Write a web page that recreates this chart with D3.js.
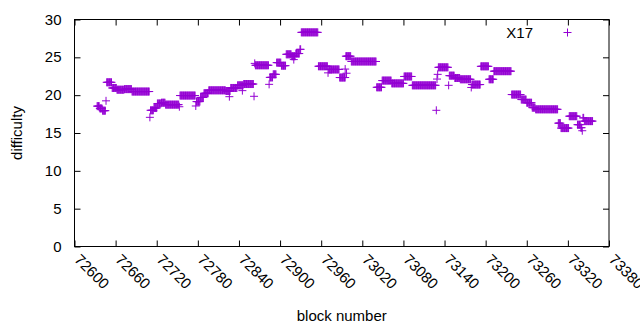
<!DOCTYPE html>
<html>
<head>
<meta charset="utf-8">
<script src="https://cdn.jsdelivr.net/npm/d3@7"></script>
<style>
body { margin: 0; background: #ffffff; }
text { font-family: "Liberation Sans", Arial, sans-serif; fill: #000000; }
</style>
</head>
<body>
<div id="canvas"></div>
<script>
"use strict"

/* Data: plateaus of difficulty (first block, last block, difficulty) */
let runStart = [72633, 72637, 72641, 72646, 72647, 72655, 72662, 72673, 72684, 72710,
    72711, 72716, 72721, 72727, 72733, 72753, 72754, 72777, 72778, 72784,
    72789, 72796, 72821, 72828, 72838, 72847, 72862, 72863, 72864, 72884,
    72885, 72890, 72895, 72902, 72909, 72917, 72923, 72929, 72931, 72956,
    72970, 72971, 72987, 72996, 73004, 73041, 73049, 73063, 73081, 73093,
    73128, 73129, 73130, 73131, 73146, 73147, 73155, 73163, 73179, 73180,
    73193, 73205, 73212, 73238, 73252, 73260, 73268, 73273, 73306, 73310,
    73322, 73334, 73339, 73341, 73342, 73344];
let runEnd = [72636, 72640, 72645, 72646, 72654, 72661, 72672, 72683, 72709, 72710,
    72715, 72720, 72726, 72732, 72752, 72753, 72776, 72777, 72783, 72788,
    72795, 72820, 72827, 72837, 72846, 72861, 72862, 72863, 72883, 72884,
    72889, 72894, 72901, 72908, 72916, 72922, 72928, 72930, 72955, 72969,
    72970, 72986, 72995, 73003, 73040, 73048, 73062, 73080, 73092, 73127,
    73128, 73129, 73130, 73145, 73146, 73154, 73162, 73178, 73179, 73192,
    73204, 73211, 73237, 73251, 73259, 73267, 73272, 73305, 73309, 73321,
    73333, 73338, 73340, 73341, 73343, 73356];
let runDifficulty = [18.55, 18.25, 17.95, 19.25, 21.7, 20.95, 20.72, 20.8, 20.48, 17.07,
    18.0, 18.3, 18.9, 19.0, 18.75, 18.47, 19.95, 18.57, 19.15, 19.7,
    20.25, 20.64, 20.55, 20.95, 21.3, 21.47, 19.85, 24.2, 23.95, 21.43,
    22.35, 22.75, 24.3, 23.9, 25.4, 25.15, 25.5, 26.06, 28.3, 23.82,
    22.95, 23.4, 22.33, 25.15, 24.45, 21.04, 21.93, 21.56, 22.47, 21.3,
    18.0, 22.13, 22.75, 23.68, 21.3, 22.58, 22.27, 22.1, 21.02, 21.4,
    23.81, 22.1, 23.17, 20.08, 19.42, 19.0, 18.35, 18.13, 16.3, 15.65,
    17.22, 16.1, 15.7, 15.3, 17.0, 16.57];

/* Single blocks lying off their plateau */
let oddBlock = [72826, 72845, 72920, 72995, 72997];
let oddDifficulty = [19.8, 20.6, 24.7, 23.45, 22.9];

let xTicks = [72600, 72660, 72720, 72780, 72840, 72900, 72960, 73020, 73080, 73140, 73200, 73260, 73320, 73380];
let yTicks = [0, 5, 10, 15, 20, 25, 30];

/* Configuration variables: drawing */
let svgWidth = 640;
let svgHeight = 330;
let plotLeft = 74.5;
let plotRight = 609;
let plotTop = 19.5;
let plotBottom = 246.5;
let pointColor = "#9400d3";
let armSize = 4;

let svg = d3.select("#canvas")
    .append("svg")
    .attr("width", svgWidth)
    .attr("height", svgHeight);

let xScale = d3.scaleLinear()
    .domain([72600, 73380])
    .range([plotLeft, plotRight]);

let yScale = d3.scaleLinear()
    .domain([0, 30])
    .range([plotBottom, plotTop]);

/* One point per block */
let points = [];
runStart.forEach(function (start, i) {
    d3.range(start, runEnd[i] + 1).forEach(function (b) {
        points.push({ block: b, difficulty: runDifficulty[i] });
    });
});
oddBlock.forEach(function (b, i) {
    points.push({ block: b, difficulty: oddDifficulty[i] });
});

/* Axes with inward ticks, mirrored on top and right */
let tickLength = 6;
let xAxisBottom = d3.axisBottom(xScale).tickValues(xTicks).tickSize(-tickLength).tickFormat("");
let xAxisTop = d3.axisTop(xScale).tickValues(xTicks).tickSize(-tickLength).tickFormat("");
let yAxisLeft = d3.axisLeft(yScale).tickValues(yTicks).tickSize(-tickLength).tickFormat("");
let yAxisRight = d3.axisRight(yScale).tickValues(yTicks).tickSize(-tickLength).tickFormat("");

svg.append("g").attr("transform", "translate(0," + plotBottom + ")").call(xAxisBottom);
svg.append("g").attr("transform", "translate(0," + plotTop + ")").call(xAxisTop);
svg.append("g").attr("transform", "translate(" + plotLeft + ",0)").call(yAxisLeft);
svg.append("g").attr("transform", "translate(" + plotRight + ",0)").call(yAxisRight);

svg.selectAll(".domain").remove();
svg.selectAll(".tick line").attr("stroke", "#000000").attr("stroke-width", 1);

/* Plot border */
svg.append("rect")
    .attr("x", plotLeft)
    .attr("y", plotTop)
    .attr("width", plotRight - plotLeft)
    .attr("height", plotBottom - plotTop)
    .attr("fill", "none")
    .attr("stroke", "#000000")
    .attr("stroke-width", 1);

/* Tick labels */
svg.selectAll(".ylabel")
    .data(yTicks)
    .join("text")
    .attr("class", "ylabel")
    .attr("x", plotLeft - 13)
    .attr("y", function (d) { return yScale(d) + 5; })
    .attr("text-anchor", "end")
    .style("font-size", "15px")
    .text(function (d) { return d; });

/* rotated x labels, the last one runs off the right edge as in the original */
svg.selectAll(".xlabel")
    .data(xTicks)
    .join("text")
    .attr("class", "xlabel")
    .attr("transform", function (d) {
        return "translate(" + (xScale(d) - 1) + "," + (plotBottom + 14) + ") rotate(45)";
    })
    .attr("text-anchor", "start")
    .style("font-size", "15px")
    .text(function (d) { return d; });

/* Axis titles */
svg.append("text")
    .attr("x", (plotLeft + plotRight) / 2)
    .attr("y", 321)
    .attr("text-anchor", "middle")
    .style("font-size", "15px")
    .text("block number");

svg.append("text")
    .attr("transform", "translate(22," + ((plotTop + plotBottom) / 2) + ") rotate(-90)")
    .attr("text-anchor", "middle")
    .style("font-size", "15px")
    .text("difficulty");

/* Points drawn as "+" */
function plusPath(cx, cy) {
    return "M" + (cx - armSize) + "," + cy + "H" + (cx + armSize) +
        "M" + cx + "," + (cy - armSize) + "V" + (cy + armSize);
}

svg.append("g")
    .selectAll("path")
    .data(points)
    .join("path")
    .attr("d", function (d) { return plusPath(xScale(d.block), yScale(d.difficulty)); })
    .attr("fill", "none")
    .attr("stroke", pointColor)
    .attr("stroke-width", 1);

/* Legend */
svg.append("text")
    .attr("x", 533)
    .attr("y", 38)
    .attr("text-anchor", "end")
    .style("font-size", "15px")
    .text("X17");

svg.append("path")
    .attr("d", plusPath(567.5, 32.5))
    .attr("fill", "none")
    .attr("stroke", pointColor)
    .attr("stroke-width", 1);
</script>
</body>
</html>
